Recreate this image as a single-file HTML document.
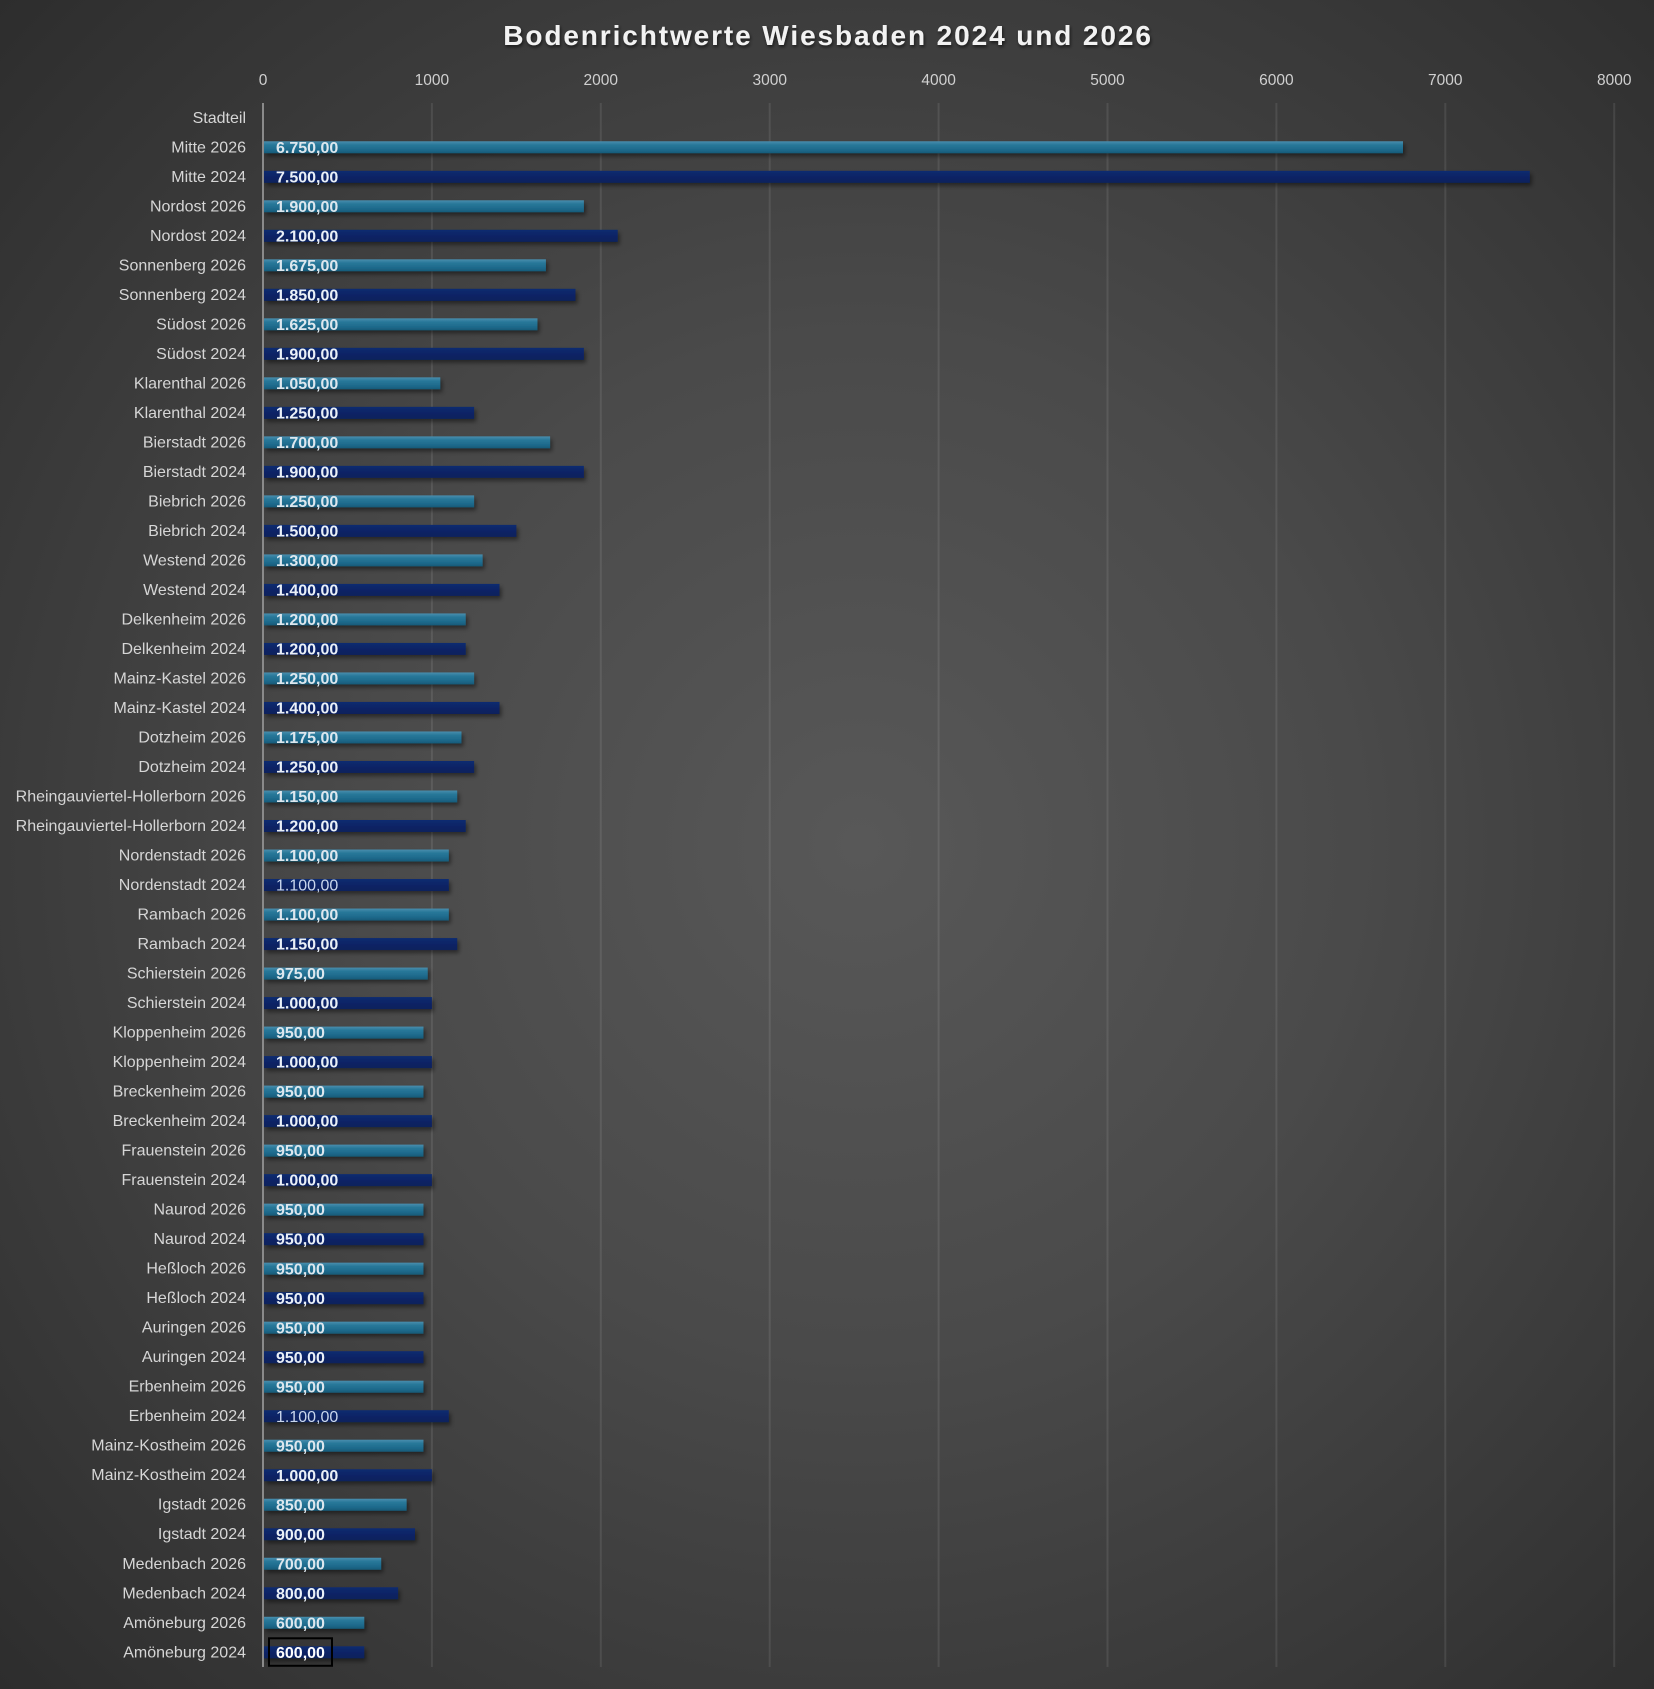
<!DOCTYPE html>
<html><head><meta charset="utf-8"><style>
html,body{margin:0;padding:0;}
body{width:1654px;height:1689px;overflow:hidden;background:radial-gradient(ellipse 75% 75% at 52% 50%,#585858 0%,#4a4a4a 40%,#2b2b2b 100%);}
svg{display:block;}
.c{font-family:"Liberation Sans",sans-serif;font-size:16px;fill:#d6d6d6;text-anchor:end;}
.v{font-family:"Liberation Sans",sans-serif;font-size:16px;font-weight:bold;}
.a{fill:#dde7ee;}
.b{fill:#eaf0f7;}
.n{font-weight:normal;fill:#c9d6ec;}
.t{fill:url(#gt);filter:url(#sh);}
.d{fill:url(#gd);filter:url(#sh);}
.tk{font-family:"Liberation Sans",sans-serif;font-size:15.5px;fill:#d0d0d0;text-anchor:middle;}
</style></head><body>
<svg width="1654" height="1689" viewBox="0 0 1654 1689" xmlns="http://www.w3.org/2000/svg">
<defs>
<linearGradient id="gt" x1="0" y1="0" x2="0" y2="1">
<stop offset="0" stop-color="#4a8eae"/><stop offset="0.3" stop-color="#287899"/><stop offset="0.7" stop-color="#1e6a8c"/><stop offset="1" stop-color="#175a78"/>
</linearGradient>
<linearGradient id="gd" x1="0" y1="0" x2="0" y2="1">
<stop offset="0" stop-color="#0f2c70"/><stop offset="0.5" stop-color="#0b2466"/><stop offset="1" stop-color="#09205c"/>
</linearGradient>
<filter id="sh" x="-5%" y="-60%" width="115%" height="250%">
<feDropShadow dx="2" dy="3" stdDeviation="2" flood-color="#000" flood-opacity="0.45"/>
</filter>
<filter id="ts" x="-5%" y="-30%" width="110%" height="170%">
<feDropShadow dx="1" dy="2" stdDeviation="1.5" flood-color="#000" flood-opacity="0.6"/>
</filter>
</defs>
<text x="828" y="45" text-anchor="middle" font-family="Liberation Sans, sans-serif" font-size="28" font-weight="bold" letter-spacing="1.9" fill="#f2f2f2" filter="url(#ts)">Bodenrichtwerte Wiesbaden 2024 und 2026</text>
<g stroke="#ffffff" stroke-opacity="0.09" stroke-width="2">
<line x1="431.9" y1="103" x2="431.9" y2="1667"/>
<line x1="600.8" y1="103" x2="600.8" y2="1667"/>
<line x1="769.7" y1="103" x2="769.7" y2="1667"/>
<line x1="938.6" y1="103" x2="938.6" y2="1667"/>
<line x1="1107.5" y1="103" x2="1107.5" y2="1667"/>
<line x1="1276.4" y1="103" x2="1276.4" y2="1667"/>
<line x1="1445.3" y1="103" x2="1445.3" y2="1667"/>
<line x1="1614.2" y1="103" x2="1614.2" y2="1667"/>
</g>
<g class="tk">
<text class="tk" x="263" y="85">0</text>
<text class="tk" x="431.9" y="85">1000</text>
<text class="tk" x="600.8" y="85">2000</text>
<text class="tk" x="769.7" y="85">3000</text>
<text class="tk" x="938.6" y="85">4000</text>
<text class="tk" x="1107.5" y="85">5000</text>
<text class="tk" x="1276.4" y="85">6000</text>
<text class="tk" x="1445.3" y="85">7000</text>
<text class="tk" x="1614.2" y="85">8000</text>
</g>
<text class="c" x="246" y="122.8">Stadteil</text>

<g transform="translate(0,147.27)"><rect class="t" x="264" y="-6" width="1139" height="12"/><text class="v a" x="276" y="5.6">6.750,00</text><text class="c" x="246" y="5">Mitte 2026</text></g>
<g transform="translate(0,176.78)"><rect class="d" x="264" y="-6" width="1265.8" height="12"/><text class="v b" x="276" y="5.6">7.500,00</text><text class="c" x="246" y="5">Mitte 2024</text></g>
<g transform="translate(0,206.29)"><rect class="t" x="264" y="-6" width="319.9" height="12"/><text class="v a" x="276" y="5.6">1.900,00</text><text class="c" x="246" y="5">Nordost 2026</text></g>
<g transform="translate(0,235.80)"><rect class="d" x="264" y="-6" width="353.7" height="12"/><text class="v b" x="276" y="5.6">2.100,00</text><text class="c" x="246" y="5">Nordost 2024</text></g>
<g transform="translate(0,265.31)"><rect class="t" x="264" y="-6" width="281.9" height="12"/><text class="v a" x="276" y="5.6">1.675,00</text><text class="c" x="246" y="5">Sonnenberg 2026</text></g>
<g transform="translate(0,294.82)"><rect class="d" x="264" y="-6" width="311.5" height="12"/><text class="v b" x="276" y="5.6">1.850,00</text><text class="c" x="246" y="5">Sonnenberg 2024</text></g>
<g transform="translate(0,324.33)"><rect class="t" x="264" y="-6" width="273.5" height="12"/><text class="v a" x="276" y="5.6">1.625,00</text><text class="c" x="246" y="5">Südost 2026</text></g>
<g transform="translate(0,353.84)"><rect class="d" x="264" y="-6" width="319.9" height="12"/><text class="v b" x="276" y="5.6">1.900,00</text><text class="c" x="246" y="5">Südost 2024</text></g>
<g transform="translate(0,383.35)"><rect class="t" x="264" y="-6" width="176.3" height="12"/><text class="v a" x="276" y="5.6">1.050,00</text><text class="c" x="246" y="5">Klarenthal 2026</text></g>
<g transform="translate(0,412.86)"><rect class="d" x="264" y="-6" width="210.1" height="12"/><text class="v b" x="276" y="5.6">1.250,00</text><text class="c" x="246" y="5">Klarenthal 2024</text></g>
<g transform="translate(0,442.37)"><rect class="t" x="264" y="-6" width="286.1" height="12"/><text class="v a" x="276" y="5.6">1.700,00</text><text class="c" x="246" y="5">Bierstadt 2026</text></g>
<g transform="translate(0,471.88)"><rect class="d" x="264" y="-6" width="319.9" height="12"/><text class="v b" x="276" y="5.6">1.900,00</text><text class="c" x="246" y="5">Bierstadt 2024</text></g>
<g transform="translate(0,501.39)"><rect class="t" x="264" y="-6" width="210.1" height="12"/><text class="v a" x="276" y="5.6">1.250,00</text><text class="c" x="246" y="5">Biebrich 2026</text></g>
<g transform="translate(0,530.90)"><rect class="d" x="264" y="-6" width="252.4" height="12"/><text class="v b" x="276" y="5.6">1.500,00</text><text class="c" x="246" y="5">Biebrich 2024</text></g>
<g transform="translate(0,560.41)"><rect class="t" x="264" y="-6" width="218.6" height="12"/><text class="v a" x="276" y="5.6">1.300,00</text><text class="c" x="246" y="5">Westend 2026</text></g>
<g transform="translate(0,589.92)"><rect class="d" x="264" y="-6" width="235.5" height="12"/><text class="v b" x="276" y="5.6">1.400,00</text><text class="c" x="246" y="5">Westend 2024</text></g>
<g transform="translate(0,619.43)"><rect class="t" x="264" y="-6" width="201.7" height="12"/><text class="v a" x="276" y="5.6">1.200,00</text><text class="c" x="246" y="5">Delkenheim 2026</text></g>
<g transform="translate(0,648.94)"><rect class="d" x="264" y="-6" width="201.7" height="12"/><text class="v b" x="276" y="5.6">1.200,00</text><text class="c" x="246" y="5">Delkenheim 2024</text></g>
<g transform="translate(0,678.45)"><rect class="t" x="264" y="-6" width="210.1" height="12"/><text class="v a" x="276" y="5.6">1.250,00</text><text class="c" x="246" y="5">Mainz-Kastel 2026</text></g>
<g transform="translate(0,707.96)"><rect class="d" x="264" y="-6" width="235.5" height="12"/><text class="v b" x="276" y="5.6">1.400,00</text><text class="c" x="246" y="5">Mainz-Kastel 2024</text></g>
<g transform="translate(0,737.47)"><rect class="t" x="264" y="-6" width="197.5" height="12"/><text class="v a" x="276" y="5.6">1.175,00</text><text class="c" x="246" y="5">Dotzheim 2026</text></g>
<g transform="translate(0,766.98)"><rect class="d" x="264" y="-6" width="210.1" height="12"/><text class="v b" x="276" y="5.6">1.250,00</text><text class="c" x="246" y="5">Dotzheim 2024</text></g>
<g transform="translate(0,796.49)"><rect class="t" x="264" y="-6" width="193.2" height="12"/><text class="v a" x="276" y="5.6">1.150,00</text><text class="c" x="246" y="5">Rheingauviertel-Hollerborn 2026</text></g>
<g transform="translate(0,826.00)"><rect class="d" x="264" y="-6" width="201.7" height="12"/><text class="v b" x="276" y="5.6">1.200,00</text><text class="c" x="246" y="5">Rheingauviertel-Hollerborn 2024</text></g>
<g transform="translate(0,855.51)"><rect class="t" x="264" y="-6" width="184.8" height="12"/><text class="v a" x="276" y="5.6">1.100,00</text><text class="c" x="246" y="5">Nordenstadt 2026</text></g>
<g transform="translate(0,885.02)"><rect class="d" x="264" y="-6" width="184.8" height="12"/><text class="v n" x="276" y="5.6">1.100,00</text><text class="c" x="246" y="5">Nordenstadt 2024</text></g>
<g transform="translate(0,914.53)"><rect class="t" x="264" y="-6" width="184.8" height="12"/><text class="v a" x="276" y="5.6">1.100,00</text><text class="c" x="246" y="5">Rambach 2026</text></g>
<g transform="translate(0,944.04)"><rect class="d" x="264" y="-6" width="193.2" height="12"/><text class="v b" x="276" y="5.6">1.150,00</text><text class="c" x="246" y="5">Rambach 2024</text></g>
<g transform="translate(0,973.55)"><rect class="t" x="264" y="-6" width="163.7" height="12"/><text class="v a" x="276" y="5.6">975,00</text><text class="c" x="246" y="5">Schierstein 2026</text></g>
<g transform="translate(0,1003.06)"><rect class="d" x="264" y="-6" width="167.9" height="12"/><text class="v b" x="276" y="5.6">1.000,00</text><text class="c" x="246" y="5">Schierstein 2024</text></g>
<g transform="translate(0,1032.57)"><rect class="t" x="264" y="-6" width="159.5" height="12"/><text class="v a" x="276" y="5.6">950,00</text><text class="c" x="246" y="5">Kloppenheim 2026</text></g>
<g transform="translate(0,1062.08)"><rect class="d" x="264" y="-6" width="167.9" height="12"/><text class="v b" x="276" y="5.6">1.000,00</text><text class="c" x="246" y="5">Kloppenheim 2024</text></g>
<g transform="translate(0,1091.59)"><rect class="t" x="264" y="-6" width="159.5" height="12"/><text class="v a" x="276" y="5.6">950,00</text><text class="c" x="246" y="5">Breckenheim 2026</text></g>
<g transform="translate(0,1121.10)"><rect class="d" x="264" y="-6" width="167.9" height="12"/><text class="v b" x="276" y="5.6">1.000,00</text><text class="c" x="246" y="5">Breckenheim 2024</text></g>
<g transform="translate(0,1150.61)"><rect class="t" x="264" y="-6" width="159.5" height="12"/><text class="v a" x="276" y="5.6">950,00</text><text class="c" x="246" y="5">Frauenstein 2026</text></g>
<g transform="translate(0,1180.12)"><rect class="d" x="264" y="-6" width="167.9" height="12"/><text class="v b" x="276" y="5.6">1.000,00</text><text class="c" x="246" y="5">Frauenstein 2024</text></g>
<g transform="translate(0,1209.63)"><rect class="t" x="264" y="-6" width="159.5" height="12"/><text class="v a" x="276" y="5.6">950,00</text><text class="c" x="246" y="5">Naurod 2026</text></g>
<g transform="translate(0,1239.14)"><rect class="d" x="264" y="-6" width="159.5" height="12"/><text class="v b" x="276" y="5.6">950,00</text><text class="c" x="246" y="5">Naurod 2024</text></g>
<g transform="translate(0,1268.65)"><rect class="t" x="264" y="-6" width="159.5" height="12"/><text class="v a" x="276" y="5.6">950,00</text><text class="c" x="246" y="5">Heßloch 2026</text></g>
<g transform="translate(0,1298.16)"><rect class="d" x="264" y="-6" width="159.5" height="12"/><text class="v b" x="276" y="5.6">950,00</text><text class="c" x="246" y="5">Heßloch 2024</text></g>
<g transform="translate(0,1327.67)"><rect class="t" x="264" y="-6" width="159.5" height="12"/><text class="v a" x="276" y="5.6">950,00</text><text class="c" x="246" y="5">Auringen 2026</text></g>
<g transform="translate(0,1357.18)"><rect class="d" x="264" y="-6" width="159.5" height="12"/><text class="v b" x="276" y="5.6">950,00</text><text class="c" x="246" y="5">Auringen 2024</text></g>
<g transform="translate(0,1386.69)"><rect class="t" x="264" y="-6" width="159.5" height="12"/><text class="v a" x="276" y="5.6">950,00</text><text class="c" x="246" y="5">Erbenheim 2026</text></g>
<g transform="translate(0,1416.20)"><rect class="d" x="264" y="-6" width="184.8" height="12"/><text class="v n" x="276" y="5.6">1.100,00</text><text class="c" x="246" y="5">Erbenheim 2024</text></g>
<g transform="translate(0,1445.71)"><rect class="t" x="264" y="-6" width="159.5" height="12"/><text class="v a" x="276" y="5.6">950,00</text><text class="c" x="246" y="5">Mainz-Kostheim 2026</text></g>
<g transform="translate(0,1475.22)"><rect class="d" x="264" y="-6" width="167.9" height="12"/><text class="v b" x="276" y="5.6">1.000,00</text><text class="c" x="246" y="5">Mainz-Kostheim 2024</text></g>
<g transform="translate(0,1504.73)"><rect class="t" x="264" y="-6" width="142.6" height="12"/><text class="v a" x="276" y="5.6">850,00</text><text class="c" x="246" y="5">Igstadt 2026</text></g>
<g transform="translate(0,1534.24)"><rect class="d" x="264" y="-6" width="151.0" height="12"/><text class="v b" x="276" y="5.6">900,00</text><text class="c" x="246" y="5">Igstadt 2024</text></g>
<g transform="translate(0,1563.75)"><rect class="t" x="264" y="-6" width="117.2" height="12"/><text class="v a" x="276" y="5.6">700,00</text><text class="c" x="246" y="5">Medenbach 2026</text></g>
<g transform="translate(0,1593.26)"><rect class="d" x="264" y="-6" width="134.1" height="12"/><text class="v b" x="276" y="5.6">800,00</text><text class="c" x="246" y="5">Medenbach 2024</text></g>
<g transform="translate(0,1622.77)"><rect class="t" x="264" y="-6" width="100.3" height="12"/><text class="v a" x="276" y="5.6">600,00</text><text class="c" x="246" y="5">Amöneburg 2026</text></g>
<g transform="translate(0,1652.28)"><rect class="d" x="264" y="-6" width="100.3" height="12"/><rect x="269" y="-14" width="63" height="27.5" fill="none" stroke="#000" stroke-width="2"/><text class="v" fill="#ffffff" x="276" y="5.6">600,00</text><text class="c" x="246" y="5">Amöneburg 2024</text></g>

<line x1="263" y1="103" x2="263" y2="1667" stroke="#8a8a8a" stroke-width="2"/>
</svg>
</body></html>
